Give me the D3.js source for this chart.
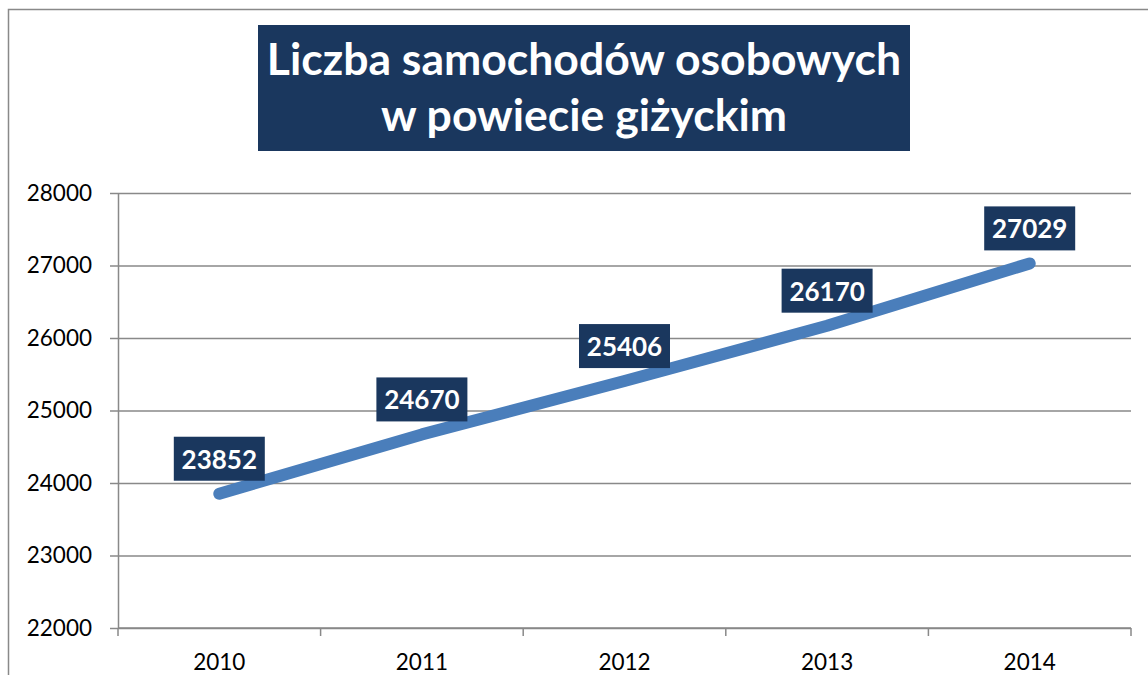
<!DOCTYPE html>
<html>
<head>
<meta charset="utf-8">
<script src="https://cdn.jsdelivr.net/npm/d3@7"></script>
<style>
  html, body { margin: 0; padding: 0; background: #fff; }
  svg { display: block; font-family: Lato, "Open Sans", sans-serif; }
</style>
</head>
<body>
<div id="mainDiv"></div>
<script>
'use strict';

var years  = ['2010', '2011', '2012', '2013', '2014'];
var values = [23852, 24670, 25406, 26170, 27029];
var yTicks = [22000, 23000, 24000, 25000, 26000, 27000, 28000];
var titleLines = ['Liczba samochodów osobowych', 'w powiecie giżyckim'];

var chart = {};

chart.width  = 1148;
chart.height = 675;
chart.plot = { left: 118, right: 1131, top: 193, bottom: 628 };
chart.navy = '#1A375E';
chart.gray = '#898989';

chart.appendSvg = function(div)
{
    var svg = d3.select(div).append('svg')
        .attr('width', chart.width)
        .attr('height', chart.height);

    // outer chart frame (runs off right and bottom edge)
    svg.append('rect')
        .attr('x', 8.5).attr('y', 9.5)
        .attr('width', 1200).attr('height', 700)
        .attr('fill', '#fff')
        .attr('stroke', chart.gray)
        .attr('stroke-width', 1.5);

    return svg;
}

chart.drawTitle = function(svg)
{
    var g = svg.append('g');
    g.append('rect')
        .attr('x', 258).attr('y', 25)
        .attr('width', 652).attr('height', 126)
        .attr('fill', chart.navy);

    g.selectAll('text.title')
        .data(titleLines)
        .enter()
        .append('text')
        .attr('class', 'title')
        .attr('x', 584)
        .attr('y', function(d, i) { return 75 + i * 56; })
        .attr('text-anchor', 'middle')
        .attr('fill', '#fff')
        .attr('font-weight', 'bold')
        .attr('font-size', 44.5)
        .text(function(d) { return d; });
}

chart.createScales = function()
{
    chart.xScale = d3.scaleBand().domain(years)
        .range([chart.plot.left, chart.plot.right]).padding(0);
    chart.yScale = d3.scaleLinear().domain([22000, 28000])
        .range([chart.plot.bottom, chart.plot.top]);
}

chart.drawAxes = function(svg)
{
    var p = chart.plot;

    // horizontal gridlines
    svg.append('g')
        .attr('transform', 'translate(' + p.left + ',0)')
        .call(d3.axisLeft(chart.yScale)
            .tickValues(yTicks)
            .tickSize(-(p.right - p.left))
            .tickFormat(''))
        .call(function(g) {
            g.select('.domain').remove();
            g.selectAll('line').attr('stroke', chart.gray).attr('stroke-width', 1.5);
        });

    // y axis with outer ticks and labels
    var yAxis = svg.append('g')
        .attr('transform', 'translate(' + p.left + ',0)')
        .call(d3.axisLeft(chart.yScale)
            .tickValues(yTicks)
            .tickSize(8)
            .tickSizeOuter(0)
            .tickPadding(18)
            .tickFormat(d3.format('d')));
    yAxis.select('.domain').attr('stroke', chart.gray).attr('stroke-width', 1.5);
    yAxis.selectAll('line').attr('stroke', chart.gray).attr('stroke-width', 1.5);
    yAxis.selectAll('text')
        .attr('font-family', 'Lato, sans-serif')
        .attr('font-size', 22.5)
        .attr('fill', '#000');

    // x axis, ticks between categories
    var xAxis = svg.append('g')
        .attr('transform', 'translate(0,' + p.bottom + ')');
    xAxis.append('line')
        .attr('x1', p.left).attr('x2', p.right)
        .attr('stroke', chart.gray).attr('stroke-width', 1.5);

    var edges = years.map(function(y) { return chart.xScale(y); });
    edges.push(p.right);
    xAxis.selectAll('line.tick')
        .data(edges)
        .enter()
        .append('line')
        .attr('class', 'tick')
        .attr('x1', function(d) { return d; })
        .attr('x2', function(d) { return d; })
        .attr('y1', 0).attr('y2', 8)
        .attr('stroke', chart.gray).attr('stroke-width', 1.5);

    xAxis.selectAll('text')
        .data(years)
        .enter()
        .append('text')
        .attr('x', function(d) { return chart.xScale(d) + chart.xScale.bandwidth() / 2; })
        .attr('y', 42)
        .attr('text-anchor', 'middle')
        .attr('font-size', 22.5)
        .attr('fill', '#000')
        .text(function(d) { return d; });
}

chart.drawLine = function(svg)
{
    var pts = years.map(function(y, i) {
        return { year: y, value: values[i] };
    });
    var cx = function(d) { return chart.xScale(d.year) + chart.xScale.bandwidth() / 2; };
    var cy = function(d) { return chart.yScale(d.value); };

    svg.append('path')
        .datum(pts)
        .attr('fill', 'none')
        .attr('stroke', '#4A7EBB')
        .attr('stroke-width', 12)
        .attr('stroke-linecap', 'round')
        .attr('stroke-linejoin', 'round')
        .attr('d', d3.line().x(cx).y(cy));

    var lab = svg.selectAll('g.label')
        .data(pts)
        .enter()
        .append('g')
        .attr('class', 'label')
        .attr('transform', function(d) {
            return 'translate(' + cx(d) + ',' + (cy(d) - 13) + ')';
        });

    lab.append('rect')
        .attr('x', -45.5).attr('y', -44)
        .attr('width', 91).attr('height', 44)
        .attr('fill', chart.navy);

    lab.append('text')
        .attr('y', -12)
        .attr('text-anchor', 'middle')
        .attr('fill', '#fff')
        .attr('font-weight', 'bold')
        .attr('font-size', 26)
        .text(function(d) { return d.value; });
}

chart.run = function()
{
    var svg = chart.appendSvg('#mainDiv');
    chart.createScales();
    chart.drawTitle(svg);
    chart.drawAxes(svg);
    chart.drawLine(svg);
}

window.onload = function() {
    chart.run();
};
</script>
</body>
</html>
